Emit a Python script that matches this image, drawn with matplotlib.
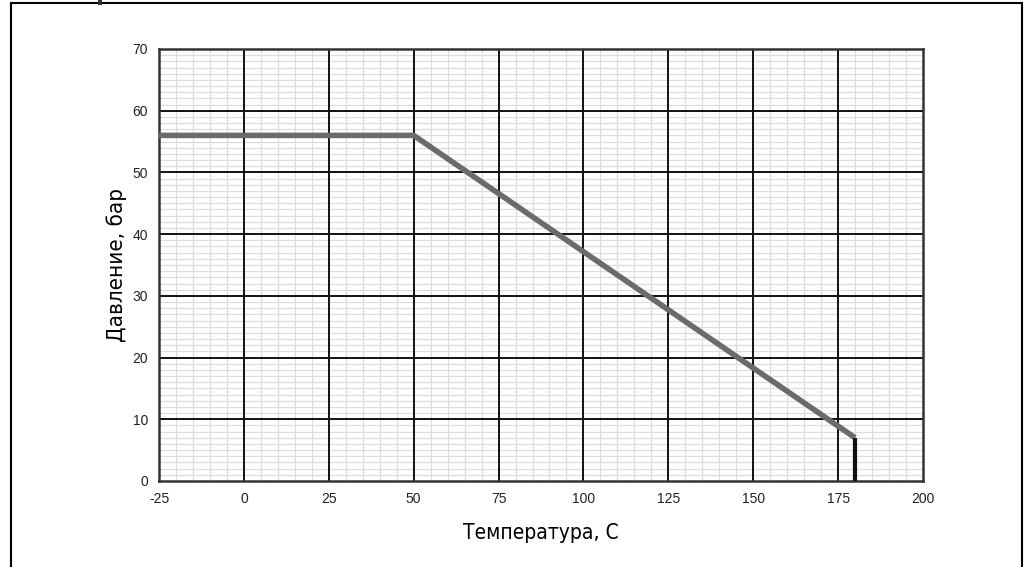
import matplotlib
matplotlib.use("Agg")
from matplotlib import pyplot as plt
from matplotlib.ticker import MultipleLocator
from matplotlib.patches import Rectangle

plt.rcParams['axes.unicode_minus'] = False

# pressure vs temperature curve
temp = [-25, 50, 180]
pressure = [56, 56, 7]
# vertical cut-off at the max temperature
cut_temp = [180, 180]
cut_pressure = [7, 0]

x_ticks = [-25, 0, 25, 50, 75, 100, 125, 150, 175, 200]
y_ticks = [0, 10, 20, 30, 40, 50, 60, 70]

fig = plt.figure(figsize=(10.26, 5.67), dpi=100)
ax = fig.add_axes([0.155, 0.1517, 0.7446, 0.7619])

# outer frame of the picture
fig.patches.append(Rectangle((11/1026, -0.1), 1011/1026, 1.1 - 3/567, transform=fig.transFigure,
                             fill=False, edgecolor="black", linewidth=1.5))
fig.patches.append(Rectangle((98/1026, 1 - 5/567), 4/1026, 5/567, transform=fig.transFigure,
                             facecolor="#333333", edgecolor="none"))

ax.set_xlim(-25, 200)
ax.set_ylim(0, 70)
ax.set_xticks(x_ticks)
ax.set_yticks(y_ticks)
ax.xaxis.set_minor_locator(MultipleLocator(5))
ax.yaxis.set_minor_locator(MultipleLocator(1))
ax.grid(which="minor", color="#dddddd", linewidth=0.9, zorder=0)
ax.set_axisbelow(True)

# major grid on top of the minor one
for xv in x_ticks[1:-1]:
    ax.axvline(xv, color="#111111", linewidth=1.4, zorder=1)
for yv in y_ticks[1:-1]:
    ax.axhline(yv, color="#111111", linewidth=1.4, zorder=1)

ax.tick_params(which="both", length=0)
ax.tick_params(labelsize=10, pad=8, colors="#222222")
for lab in ax.get_xticklabels() + ax.get_yticklabels():
    lab.set_family("Liberation Sans")
for s in ax.spines.values():
    s.set_linewidth(1.8)
    s.set_color("#333333")

ax.plot(temp, pressure, color="#6b6b6b", linewidth=4, solid_capstyle="butt", zorder=3)
ax.plot(cut_temp, cut_pressure, color="#111111", linewidth=3, solid_capstyle="butt", zorder=3)

ax.set_xlabel("Температура, С", fontsize=15, fontstretch="condensed", labelpad=12)
ax.set_ylabel("Давление, бар", fontsize=16, fontstretch="condensed", labelpad=4)

plt.savefig("out.png", dpi=100)
